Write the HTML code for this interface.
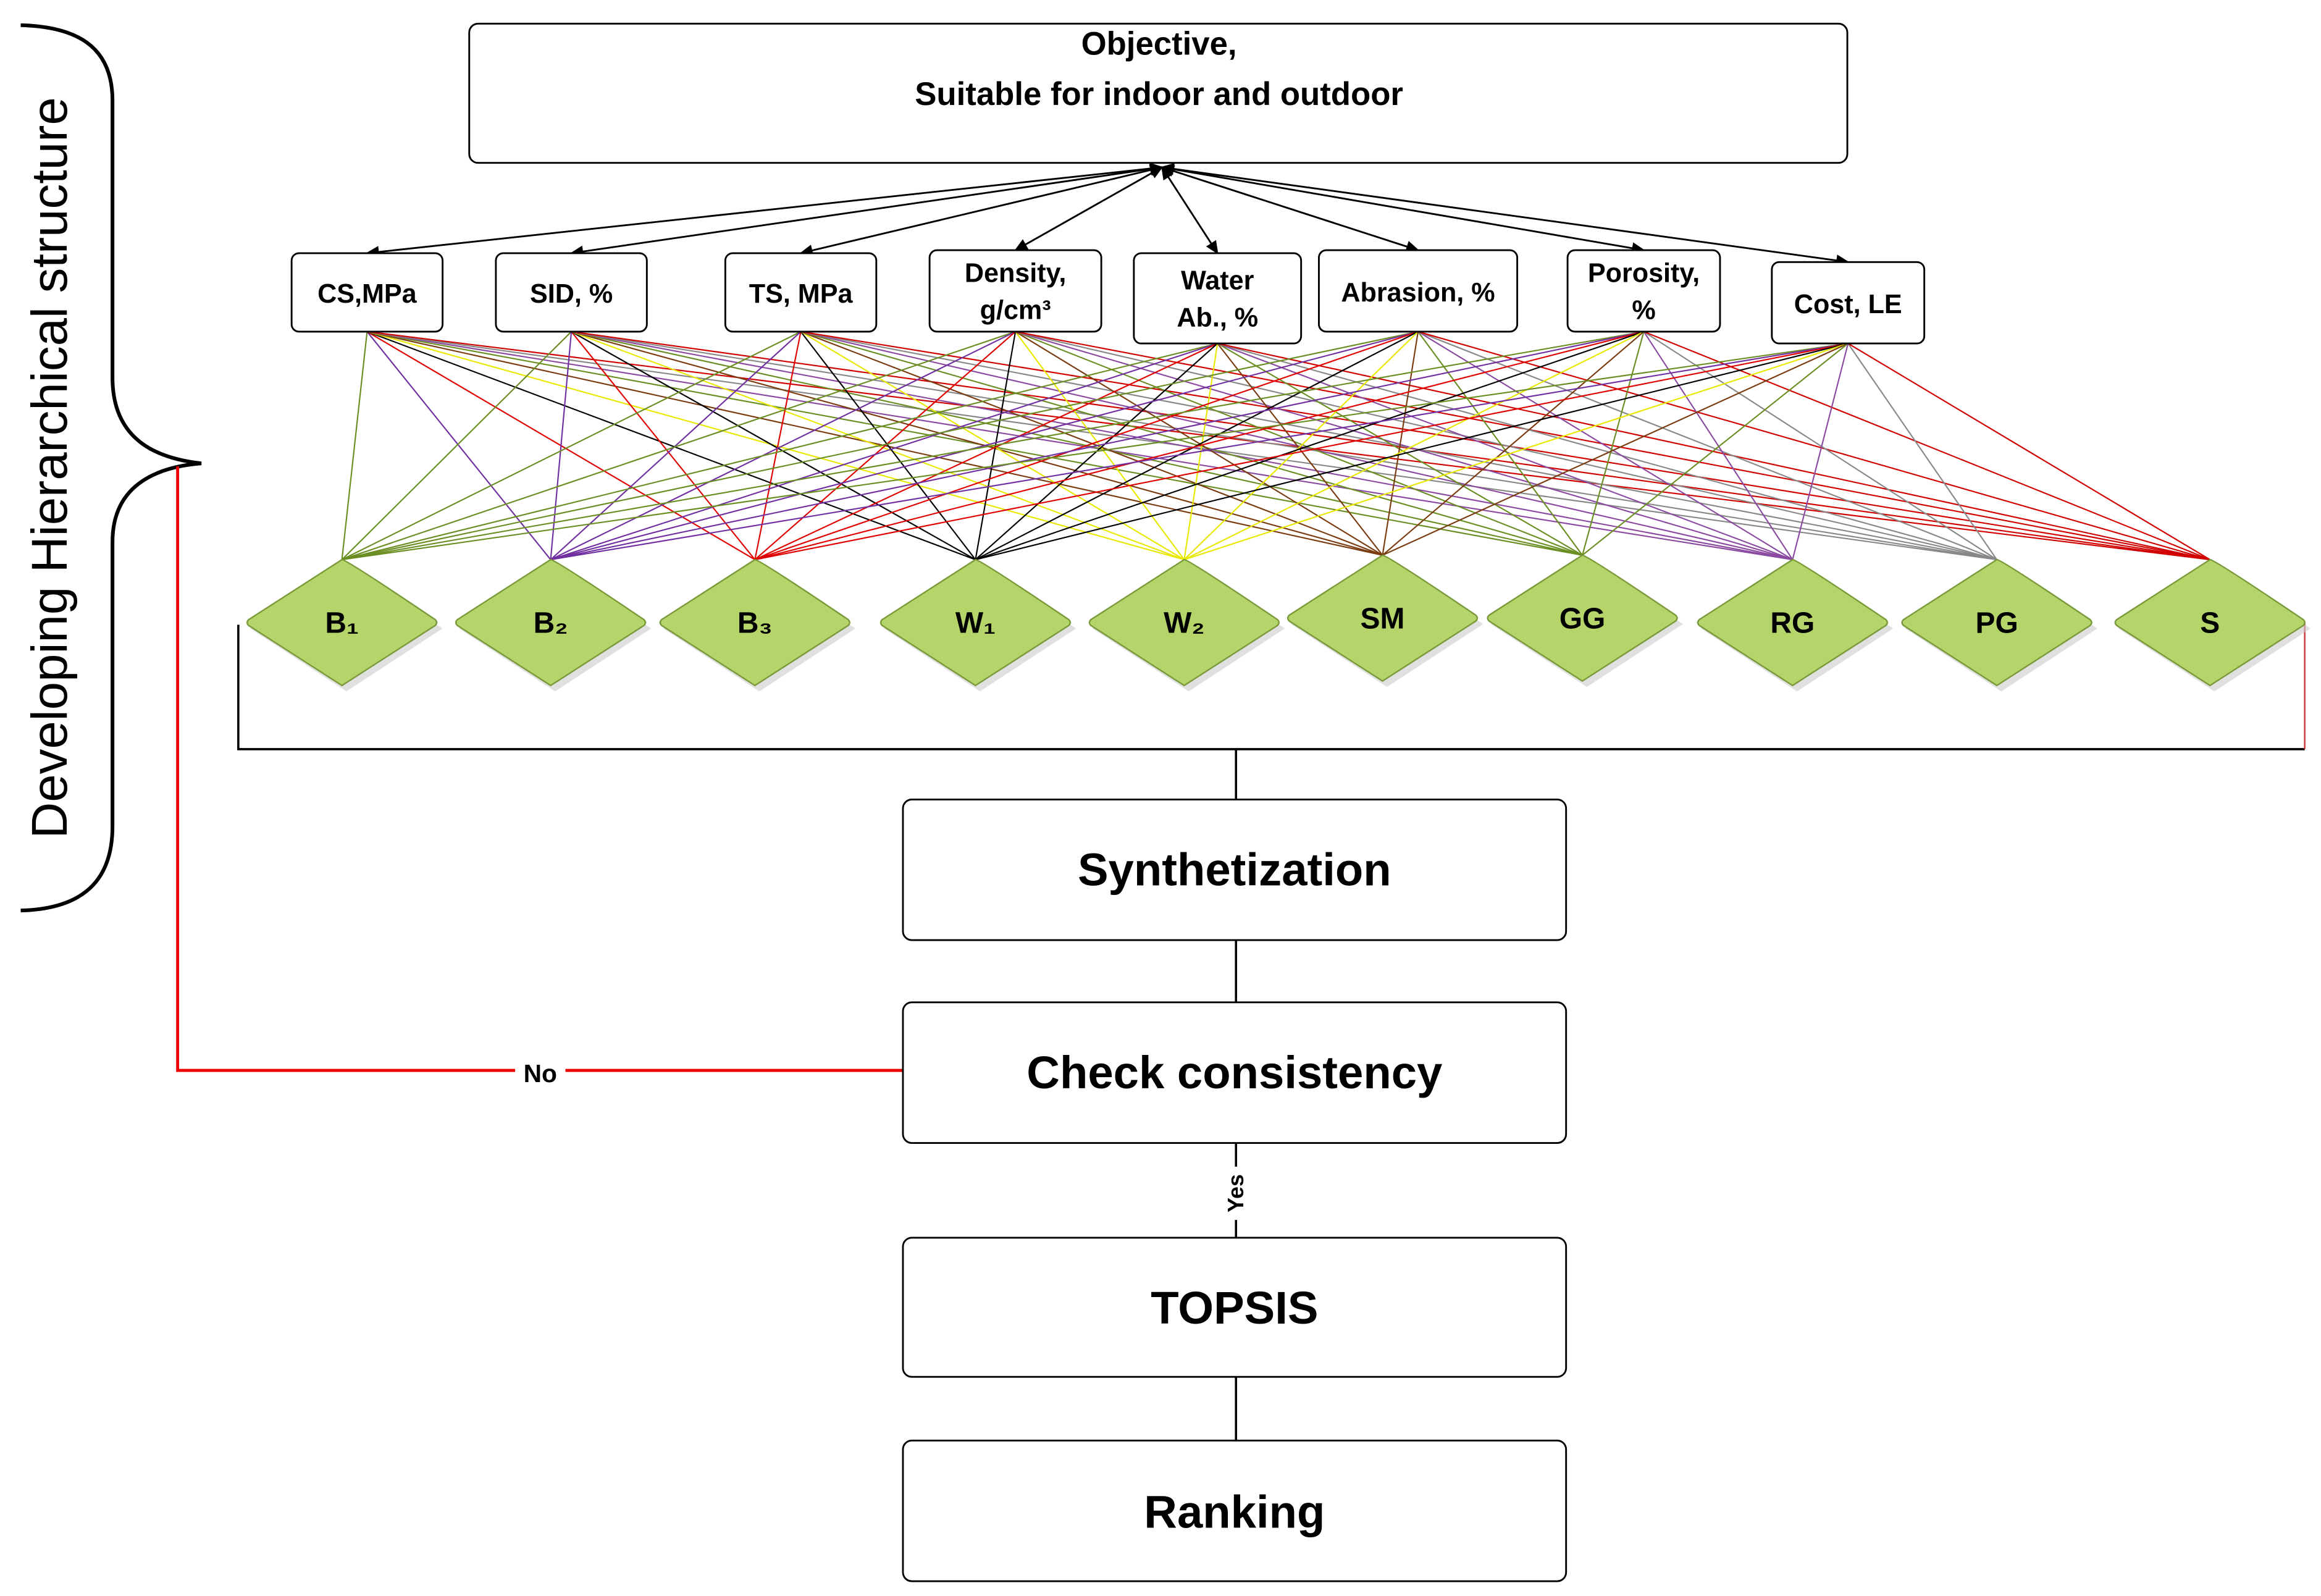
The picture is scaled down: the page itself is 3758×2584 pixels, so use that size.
<!DOCTYPE html>
<html><head><meta charset="utf-8"><style>
html,body{margin:0;padding:0;background:#fff;}
svg{display:block;}
text{font-family:"Liberation Sans",sans-serif;}
</style></head><body>
<svg id="s" width="3758" height="2584" viewBox="0 0 1568 1078" preserveAspectRatio="none" xmlns="http://www.w3.org/2000/svg">
<defs>
<marker id="ar" markerWidth="10" markerHeight="10" refX="8" refY="4" orient="auto" markerUnits="userSpaceOnUse"><path d="M0,0 L9,4 L0,8 Z" fill="#000"/></marker>
<marker id="ar2" markerWidth="10" markerHeight="10" refX="1" refY="4" orient="auto" markerUnits="userSpaceOnUse"><path d="M9,0 L0,4 L9,8 Z" fill="#000"/></marker>
</defs>
<g id="lines"></g>
<!-- brace -->
<path d="M14,17 C50,18 76,30 76,68 L76,255 C76,300 110,310 136,313 C110,315 76,325 76,366 L76,558 C76,600 50,614 14,615" fill="none" stroke="#000" stroke-width="2.5"/>
<text transform="translate(45,316) rotate(-90)" text-anchor="middle" font-size="34">Developing Hierarchical structure</text>
<!-- objective -->
<rect x="317" y="16" width="931" height="94" rx="6" fill="#fff" stroke="#000" stroke-width="1.2"/>
<text x="783" y="37" text-anchor="middle" font-size="22" font-weight="bold">Objective,</text>
<text x="783" y="71" text-anchor="middle" font-size="22" font-weight="bold">Suitable for indoor  and outdoor</text>
<g id="arrows"></g>
<g id="crit"></g>
<!-- bracket -->
<path d="M161,422 L161,506 L1557,506" fill="none" stroke="#000" stroke-width="1.5"/>
<path d="M1557,420 L1557,506" fill="none" stroke="#c33" stroke-width="1"/>
<line x1="835" y1="506" x2="835" y2="540" stroke="#000" stroke-width="1.5"/>
<line x1="835" y1="635" x2="835" y2="677" stroke="#000" stroke-width="1.5"/>
<line x1="835" y1="772" x2="835" y2="836" stroke="#000" stroke-width="1.5"/>
<line x1="835" y1="930" x2="835" y2="973" stroke="#000" stroke-width="1.5"/>
<rect x="826" y="788" width="18" height="36" fill="#fff"/>
<text transform="translate(840,806) rotate(-90)" text-anchor="middle" font-size="15" font-weight="bold">Yes</text>
<!-- red feedback -->
<path d="M120,315 L120,723 L610,723" fill="none" stroke="#e00" stroke-width="2"/>
<rect x="348" y="714" width="34" height="20" fill="#fff"/>
<text x="365" y="731" text-anchor="middle" font-size="17" font-weight="bold">No</text>
<g id="diam"></g>
<g font-weight="bold" text-anchor="middle">
<rect x="610" y="540" width="448" height="95" rx="6" fill="#fff" stroke="#000" stroke-width="1.2"/>
<text x="834" y="598" font-size="31">Synthetization</text>
<rect x="610" y="677" width="448" height="95" rx="6" fill="#fff" stroke="#000" stroke-width="1.2"/>
<text x="834" y="735" font-size="31">Check consistency</text>
<rect x="610" y="836" width="448" height="94" rx="6" fill="#fff" stroke="#000" stroke-width="1.2"/>
<text x="834" y="894" font-size="31">TOPSIS</text>
<rect x="610" y="973" width="448" height="95" rx="6" fill="#fff" stroke="#000" stroke-width="1.2"/>
<text x="834" y="1032" font-size="31">Ranking</text>
</g>
</svg>
<script>
var NS="http://www.w3.org/2000/svg";
function el(p,t,a,txt){var e=document.createElementNS(NS,t);for(var k in a)e.setAttribute(k,a[k]);if(txt!==undefined)e.textContent=txt;document.getElementById(p).appendChild(e);return e;}
var crit=[
[197,299,171,224,["CS,MPa"]],
[335,437,171,224,["SID, %"]],
[490,592,171,224,["TS, MPa"]],
[628,744,169,224,["Density,","g/cm³"]],
[766,879,171,232,["Water","Ab., %"]],
[891,1025,169,224,["Abrasion, %"]],
[1059,1162,169,224,["Porosity,","%"]],
[1197,1300,177,232,["Cost, LE"]]];
var alt=[[231,378,"B₁","#6b8e23"],[372,378,"B₂","#7030a0"],[510,378,"B₃","#e00000"],[659,378,"W₁","#000"],[800,378,"W₂","#e8e800"],[934,375,"SM","#7a3b10"],[1069,375,"GG","#6b8e23"],[1211,378,"RG","#8a4aa0"],[1349,378,"PG","#888"],[1493,378,"S","#d00000"]];
crit.forEach(function(c){
  var cx=(c[0]+c[1])/2;
  alt.forEach(function(a){
    el("lines","line",{x1:cx,y1:c[3],x2:a[0],y2:a[1],stroke:a[3],"stroke-width":0.9});
  });
  el("arrows","line",{x1:785,y1:113,x2:cx,y2:c[2],stroke:"#000","stroke-width":1.2,"marker-end":"url(#ar)","marker-start":"url(#ar2)"});
  el("crit","rect",{x:c[0],y:c[2],width:c[1]-c[0],height:c[3]-c[2],rx:5,fill:"#fff",stroke:"#000","stroke-width":1.2});
  var my=(c[2]+c[3])/2;
  if(c[4].length==1) el("crit","text",{x:cx,y:my+7,"text-anchor":"middle","font-size":18,"font-weight":"bold"},c[4][0]);
  else{el("crit","text",{x:cx,y:my-6,"text-anchor":"middle","font-size":18,"font-weight":"bold"},c[4][0]);
       el("crit","text",{x:cx,y:my+19,"text-anchor":"middle","font-size":18,"font-weight":"bold"},c[4][1]);}
});
alt.forEach(function(a){
  var x=a[0],t=a[1],b=t+85,m=(t+b)/2;
  el("diam","path",{d:"M"+(x+3)+","+(t+4)+" L"+(x+68)+","+(m+4)+" L"+(x+3)+","+(b+4)+" L"+(x-62)+","+(m+4)+"Z",fill:"#ccc",opacity:0.6});
  el("diam","path",{d:"M"+x+","+t+" Q"+(x+3)+","+t+" "+(x+63)+","+(m-2)+" Q"+(x+65)+","+m+" "+(x+63)+","+(m+2)+" L"+x+","+b+" L"+(x-63)+","+(m+2)+" Q"+(x-65)+","+m+" "+(x-63)+","+(m-2)+" Z",fill:"#b5d56a",stroke:"#7a9a3a","stroke-width":1});
  el("diam","text",{x:x,y:m+7,"text-anchor":"middle","font-size":20,"font-weight":"bold"},a[2]);
});
</script>
</body></html>
